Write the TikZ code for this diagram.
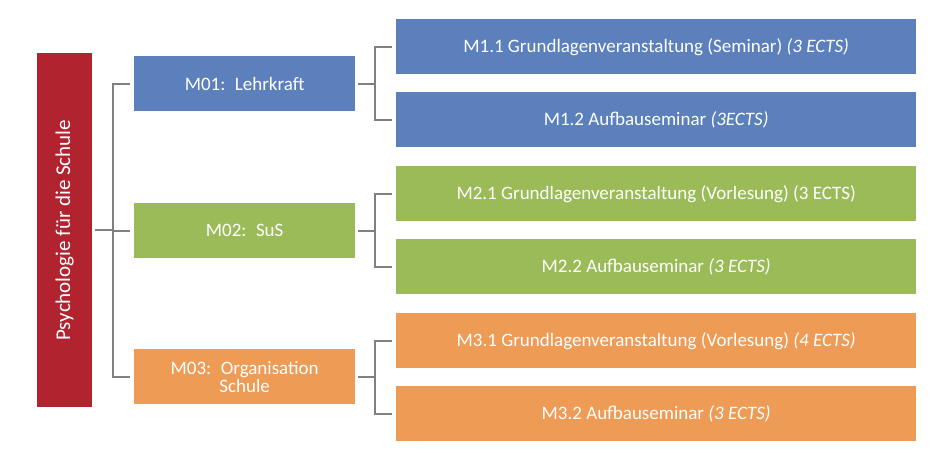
\documentclass[tikz,border=0pt]{standalone}
\usepackage{fontspec}
\setmainfont{Carlito}
\definecolor{cb}{HTML}{5B80BC}
\definecolor{cg}{HTML}{9BBB59}
\definecolor{co}{HTML}{EE9B55}
\definecolor{cr}{HTML}{B0232F}
\definecolor{ln}{HTML}{808080}
\begin{document}
\begin{tikzpicture}[x=1pt,y=-1pt,
 box/.style={draw=none,inner sep=0pt,text=white,font=\fontsize{19}{21}\selectfont,align=center,anchor=north west},
 mid/.style={box,minimum width=221pt,minimum height=55pt,text width=200pt},
 leaf/.style={box,minimum width=520pt,minimum height=55pt},
 con/.style={draw=ln,line width=2.2pt}]
\useasboundingbox (0,0) rectangle (940,461);
\node[box,fill=cr,minimum width=55pt,minimum height=354pt] (root) at (37,53) {};
\node[rotate=90,text=white,font=\fontsize{21}{23}\selectfont] (rt) at (root.center) {Psychologie für die Schule};
\node[mid,fill=cb] (m1) at (134,56) {M01: Lehrkraft};
\node[mid,fill=cg] (m2) at (134,203) {M02: SuS};
\node[mid,fill=co] (m3) at (134,349) {M03: Organisation\\[-3pt]Schule};
\node[leaf,fill=cb] (l1) at (396,19) {M1.1 Grundlagenveranstaltung (Seminar) \textit{(3 ECTS)}};
\node[leaf,fill=cb] (l2) at (396,92) {M1.2 Aufbauseminar \textit{(3ECTS)}};
\node[leaf,fill=cg] (l3) at (396,166) {M2.1 Grundlagenveranstaltung (Vorlesung) (3 ECTS)};
\node[leaf,fill=cg] (l4) at (396,239) {M2.2 Aufbauseminar \textit{(3 ECTS)}};
\node[leaf,fill=co] (l5) at (396,313) {M3.1 Grundlagenveranstaltung (Vorlesung) \textit{(4 ECTS)}};
\node[leaf,fill=co] (l6) at (396,386) {M3.2 Aufbauseminar \textit{(3 ECTS)}};
\coordinate (r) at (113,0);
\draw[con] ([xshift=3pt]root.east) -- (r |- root.east);
\draw[con] ([xshift=-4pt]m1.west) -| (r |- m3.west) -- ([xshift=-4pt]m3.west);
\draw[con] (r |- m2.west) -- ([xshift=-4pt]m2.west);
\foreach \m/\a/\b in {m1/l1/l2,m2/l3/l4,m3/l5/l6}{
 \coordinate (j) at (375,0);
 \draw[con] ([xshift=3pt]\m.east) -- (j |- \m.east);
 \draw[con] ([xshift=-4pt]\a.west) -| (j |- \b.west) -- ([xshift=-4pt]\b.west);
}
\end{tikzpicture}
\end{document}
